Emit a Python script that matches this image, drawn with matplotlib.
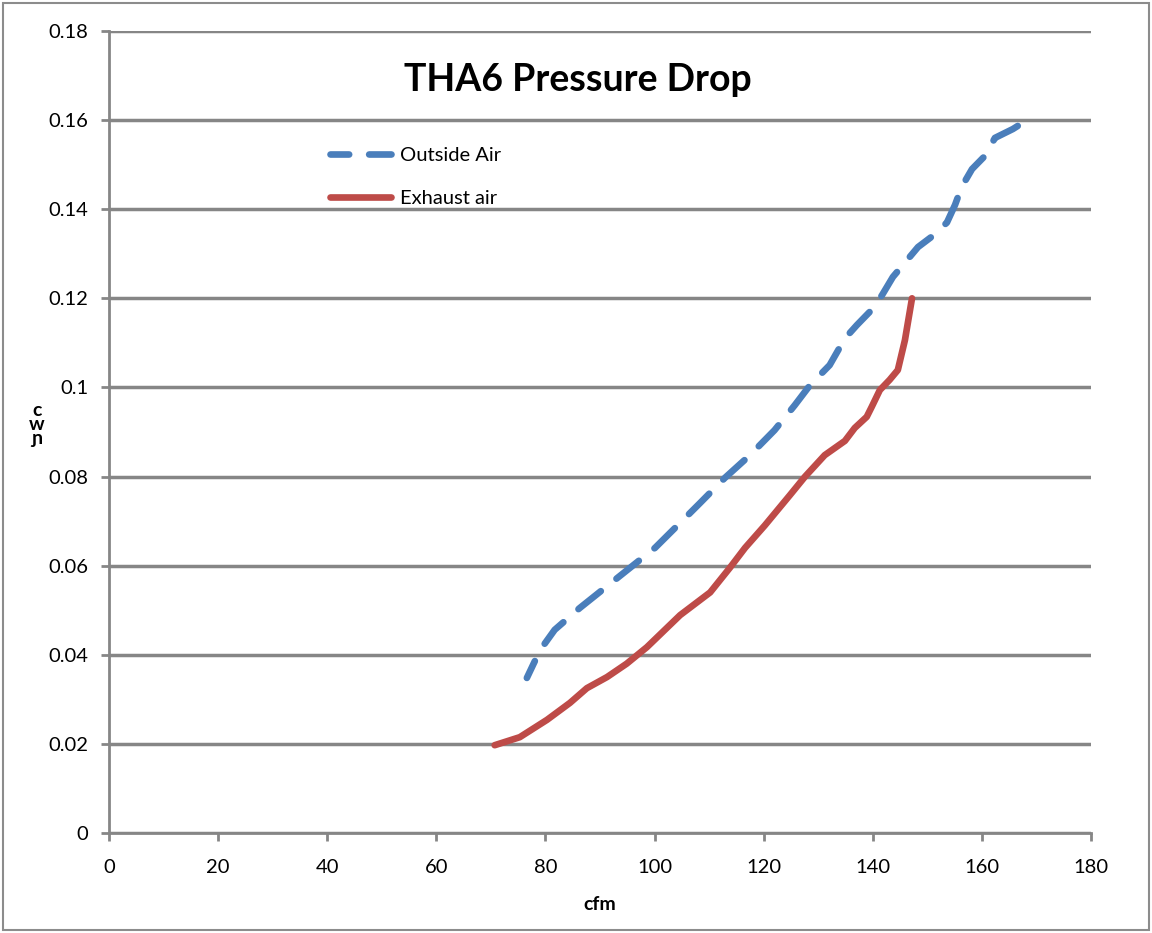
import matplotlib
matplotlib.use("Agg")
from matplotlib import pyplot as plt
from matplotlib.patches import Rectangle

plt.rcParams["font.family"] = ["Lato", "DejaVu Sans"]

# Outside Air (dashed blue)
oa_cfm = [76.6, 79.0, 81.7, 86.3, 90.9, 95.5, 100.1, 104.7, 108.3, 112.9,
          117.5, 122.0, 125.7, 128.5, 132.1, 134.9, 137.1, 139.8, 141.7,
          143.7, 145.9, 148.3, 151.0, 153.6, 155.1, 156.3, 158.2, 160.6,
          162.4, 165.7, 168.8]
oa_wc = [0.0348, 0.041, 0.0456, 0.0505, 0.055, 0.0595, 0.064, 0.0696, 0.074,
         0.0797, 0.0848, 0.0904, 0.096, 0.1005, 0.105, 0.111, 0.114, 0.1174,
         0.1207, 0.1248, 0.128, 0.1315, 0.134, 0.137, 0.141, 0.145, 0.149,
         0.152, 0.156, 0.158, 0.1604]

# Exhaust air (solid red)
ea_cfm = [70.7, 75.3, 80.3, 84.5, 87.6, 91.3, 94.9, 98.6, 104.7, 110.2,
          113.8, 116.6, 120.2, 124.8, 127.6, 131.2, 134.9, 136.7, 138.9,
          139.8, 141.3, 143.1, 144.6, 145.9, 147.2]
ea_wc = [0.0197, 0.0215, 0.0254, 0.0292, 0.0325, 0.035, 0.038, 0.0417, 0.0489,
         0.054, 0.0595, 0.064, 0.069, 0.0758, 0.080, 0.0848, 0.088, 0.0909,
         0.0934, 0.0956, 0.0994, 0.1017, 0.1039, 0.1106, 0.120]

x_ticks = [0, 20, 40, 60, 80, 100, 120, 140, 160, 180]
y_ticks = [0, 0.02, 0.04, 0.06, 0.08, 0.1, 0.12, 0.14, 0.16, 0.18]
y_labels = ["0", "0.02", "0.04", "0.06", "0.08", "0.1", "0.12", "0.14",
            "0.16", "0.18"]

grid_col = "#868686"

fig = plt.figure(figsize=(11.52, 9.33), dpi=100)
ax = fig.add_axes([0.0946, 0.1072, 0.8524, 0.8596])

ax.plot(oa_cfm, oa_wc, color="#4a7ebb", lw=4.8, ls=(1.5, (4.3, 3.0)),
        solid_capstyle="round", dash_capstyle="round", label="Outside Air")
ax.plot(ea_cfm, ea_wc, color="#be4b48", lw=4.8, solid_capstyle="round",
        label="Exhaust air")

ax.set_xlim(0, 180)
ax.set_ylim(0, 0.18)
ax.set_xticks(x_ticks)
ax.set_yticks(y_ticks, y_labels)
ax.yaxis.grid(True, color=grid_col, lw=2.5)
ax.set_axisbelow(True)
for s in ["top", "right"]:
    ax.spines[s].set_visible(False)
for s in ["left", "bottom"]:
    ax.spines[s].set_color(grid_col)
    ax.spines[s].set_linewidth(2)
ax.tick_params(colors=grid_col, width=2, length=6, labelsize=14.5,
               labelcolor="black")
ax.tick_params(axis="x", pad=13)
ax.tick_params(axis="y", pad=9)

ax.set_xlabel("cfm", fontsize=14, fontweight="bold", labelpad=14)
fig.text(0.032, 0.545, "c\nw\nɲ", fontsize=14, fontweight="bold",
         ha="center", va="center", linespacing=0.8)

ax.text(86, 0.169, "THA6 Pressure Drop", fontsize=27, fontweight="bold",
        ha="center", va="center")

ax.legend(loc="upper left", bbox_to_anchor=(0.207, 0.878), frameon=False,
          fontsize=14.5, handlelength=3.0, handletextpad=0.45,
          labelspacing=1.3)

fig.patches.append(Rectangle((0.003, 0.003), 0.994, 0.994,
                             transform=fig.transFigure, fill=False,
                             edgecolor="#8c8c8c", lw=1.5))

fig.savefig("out.png", dpi=100)
